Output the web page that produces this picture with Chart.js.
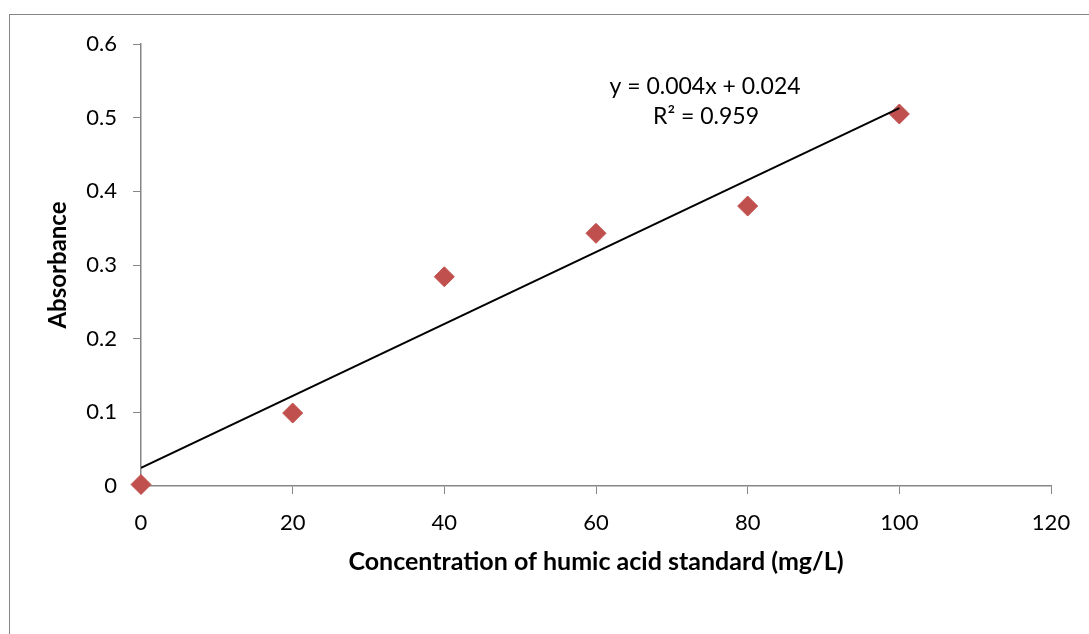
<!DOCTYPE html>
<html>
<head>
<meta charset="utf-8">
<script src="https://cdn.jsdelivr.net/npm/chart.js@4"></script>
<style>
  html, body { margin: 0; padding: 0; background: #fff; }
  #wrap { width: 1089px; height: 634px; }
</style>
</head>
<body>
<div id="wrap"><canvas id="humicChart" width="1089" height="634"></canvas></div>
<script>
// concentration of standards (mg/L) and measured absorbance
const concentrations = [0, 20, 40, 60, 80, 100];
const absorbance = [0.002, 0.099, 0.284, 0.343, 0.380, 0.505];

// linear trendline end points as drawn in the picture
const trendX = [0, 100];
const trendY = [0.0245, 0.513];

const equationLines = ['y = 0.004x + 0.024', 'R² = 0.959'];

const FONT = 'Lato, "Open Sans", sans-serif';
const AXIS_GRAY = '#868686';

// frame round the chart and the trendline label
const framePlugin = {
  id: 'frame',
  beforeDraw(chart) {
    const ctx = chart.ctx;
    ctx.save();
    ctx.strokeStyle = AXIS_GRAY;
    ctx.lineWidth = 1;
    ctx.strokeRect(9.5, 14.5, 1200, 700);
    ctx.restore();
  },
  afterDraw(chart) {
    const ctx = chart.ctx;
    ctx.save();
    ctx.fillStyle = '#000';
    ctx.font = '23px ' + FONT;
    ctx.textAlign = 'center';
    ctx.textBaseline = 'middle';
    ctx.fillText(equationLines[0], 705, 87);
    ctx.fillText(equationLines[1], 706, 117);
    ctx.restore();
  }
};

function drawChart() {
  const ctx = document.getElementById('humicChart').getContext('2d');

  const data = {
    datasets: [{
      type: 'scatter',
      label: 'Absorbance',
      data: concentrations.map((c, i) => ({ x: c, y: absorbance[i] })),
      pointStyle: 'rectRot',
      pointRadius: 10,
      pointHoverRadius: 10,
      backgroundColor: '#C0504D',
      borderColor: '#C0504D',
      borderWidth: 1,
      clip: false,
      order: 2,
    }, {
      type: 'line',
      label: 'Linear',
      data: trendX.map((x, i) => ({ x: x, y: trendY[i] })),
      borderColor: '#000',
      borderWidth: 2,
      pointRadius: 0,
      fill: false,
      order: 1,
    }],
  };

  const options = {
    responsive: false,
    animation: false,
    layout: {
      padding: { left: 0, top: 44, right: 38, bottom: 0 }
    },
    plugins: {
      legend: { display: false },
      tooltip: { enabled: false },
    },
    scales: {
      x: {
        type: 'linear',
        min: 0,
        max: 120,
        afterFit: (scale) => { scale.height = 148; },
        ticks: {
          stepSize: 20,
          color: '#000',
          padding: 16,
          font: { family: FONT, size: 22 },
        },
        grid: {
          drawOnChartArea: false,
          color: AXIS_GRAY,
          tickLength: 8,
        },
        border: { color: AXIS_GRAY, width: 1.5 },
        title: {
          display: true,
          text: 'Concentration of humic acid standard (mg/L)',
          color: '#000',
          font: { family: FONT, size: 25, weight: 'bold' },
          padding: { top: 0, bottom: 57 },
        },
      },
      y: {
        type: 'linear',
        min: 0,
        max: 0.6,
        afterFit: (scale) => { scale.width = 141; },
        ticks: {
          stepSize: 0.1,
          color: '#000',
          padding: 16,
          font: { family: FONT, size: 22 },
          callback: (v) => +v.toFixed(1),
        },
        grid: {
          drawOnChartArea: false,
          color: AXIS_GRAY,
          tickLength: 8,
        },
        border: { color: AXIS_GRAY, width: 1.5 },
        title: {
          display: true,
          text: 'Absorbance',
          color: '#000',
          font: { family: FONT, size: 24, weight: 'bold' },
          padding: { top: 44, bottom: 0 },
        },
      },
    },
  };

  new Chart(ctx, {
    data: data,
    options: options,
    plugins: [framePlugin],
  });
}

document.addEventListener('DOMContentLoaded', () => {
  drawChart();
});
</script>
</body>
</html>
